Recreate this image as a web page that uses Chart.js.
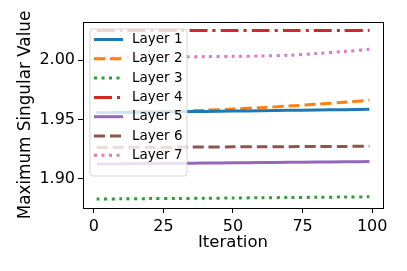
<!DOCTYPE html>
<html><head><meta charset="utf-8">
<script src="https://cdn.jsdelivr.net/npm/chart.js@4.4.0/dist/chart.umd.min.js"></script>
<style>html,body{margin:0;padding:0;background:#fff;}canvas{display:block;}</style>
</head><body>
<canvas id="c" width="407" height="271"></canvas>
<script>
const iterations = [1, 10, 20, 30, 40, 50, 60, 70, 80, 90, 99];
const layer1 = [1.9556, 1.9559, 1.9562, 1.9565, 1.9568, 1.9571, 1.9574, 1.9577, 1.9580, 1.9583, 1.9586];
const layer2 = [1.9558, 1.9561, 1.9565, 1.9570, 1.9578, 1.9588, 1.9600, 1.9613, 1.9628, 1.9645, 1.9663];
const layer3 = [1.8832, 1.8833, 1.8835, 1.8836, 1.8838, 1.8840, 1.8842, 1.8844, 1.8846, 1.8848, 1.8850];
const layer4 = [2.0249, 2.0249, 2.0249, 2.0249, 2.0249, 2.0249, 2.0249, 2.0249, 2.0249, 2.0249, 2.0249];
const layer5 = [1.9126, 1.9128, 1.9130, 1.9132, 1.9134, 1.9136, 1.9138, 1.9140, 1.9142, 1.9144, 1.9146];
const layer6 = [1.9265, 1.9266, 1.9267, 1.9268, 1.9269, 1.9270, 1.9271, 1.9272, 1.9273, 1.9274, 1.9275];
const layer7 = [2.0022, 2.0024, 2.0026, 2.0027, 2.0029, 2.0031, 2.0034, 2.0040, 2.0055, 2.0072, 2.0090];
const seriesLabels = ['Layer 1','Layer 2','Layer 3','Layer 4','Layer 5','Layer 6','Layer 7'];
const yTicks = [1.90, 1.95, 2.00];
const xTicks = [0, 25, 50, 75, 100];

const colors = ['#1f77b4','#ff7f0e','#2ca02c','#d62728','#9467bd','#8c564b','#e377c2'];
const dashes = [[], [11,5], [3,4.5], [18,5,3,5], [], [11,5], [3,4.5]];
const seriesData = [layer1, layer2, layer3, layer4, layer5, layer6, layer7];

const datasets = seriesData.map((vals, i) => ({
  label: seriesLabels[i],
  data: vals.map((v, j) => ({x: iterations[j], y: v})),
  borderColor: colors[i],
  backgroundColor: colors[i],
  borderWidth: 3,
  borderDash: dashes[i],
  borderCapStyle: 'butt',
  pointRadius: 0,
  tension: 0.3,
  fill: false
}));

const FONT = 'DejaVu Sans';

const framePlugin = {
  id: 'frame',
  afterDraw(chart) {
    const {ctx, chartArea: a} = chart;
    ctx.save();
    // legend
    const lx = 90, ly = 29, lw = 97, lh = 147;
    ctx.beginPath();
    const r = 3;
    ctx.moveTo(lx + r, ly);
    ctx.arcTo(lx + lw, ly, lx + lw, ly + lh, r);
    ctx.arcTo(lx + lw, ly + lh, lx, ly + lh, r);
    ctx.arcTo(lx, ly + lh, lx, ly, r);
    ctx.arcTo(lx, ly, lx + lw, ly, r);
    ctx.closePath();
    ctx.fillStyle = 'rgba(255,255,255,0.8)';
    ctx.fill();
    ctx.strokeStyle = 'rgba(204,204,204,0.8)';
    ctx.lineWidth = 1;
    ctx.stroke();
    chart.data.datasets.forEach((ds, i) => {
      const y = 39.5 + i * 19.3;
      ctx.beginPath();
      ctx.setLineDash(ds.borderDash);
      ctx.lineCap = 'butt';
      ctx.strokeStyle = ds.borderColor;
      ctx.lineWidth = 3;
      ctx.moveTo(94, y);
      ctx.lineTo(123, y);
      ctx.stroke();
      ctx.setLineDash([]);
      ctx.fillStyle = '#000';
      ctx.font = '13.5px "' + FONT + '"';
      ctx.textBaseline = 'middle';
      ctx.textAlign = 'left';
      ctx.fillText(ds.label, 132, y);
    });
    // frame
    ctx.strokeStyle = '#000';
    ctx.lineWidth = 1;
    ctx.strokeRect(Math.round(a.left) + 0.5, Math.round(a.top) + 0.5, Math.round(a.right - a.left), Math.round(a.bottom - a.top));
    ctx.restore();
  }
};

new Chart(document.getElementById('c'), {
  type: 'line',
  data: { datasets },
  options: {
    responsive: false,
    animation: false,
    layout: { padding: { left: 0, top: 22, right: 24, bottom: 18 } },
    plugins: { legend: { display: false }, tooltip: { enabled: false } },
    scales: {
      x: {
        type: 'linear',
        min: -3.9, max: 103.9,
        afterBuildTicks: s => { s.ticks = xTicks.map(v => ({value: v})); },
        afterFit: s => { s.height = 45; },
        grid: { drawOnChartArea: false, drawTicks: true, tickLength: 5, color: '#000' },
        border: { display: false },
        ticks: { color: '#000', font: { family: FONT, size: 16 }, padding: 4, maxRotation: 0, autoSkip: false },
        title: { display: true, text: 'Iteration', color: '#000', font: { family: FONT, size: 16.5 }, padding: { top: 0, bottom: 0 } }
      },
      y: {
        type: 'linear',
        min: 1.8756, max: 2.032,
        afterBuildTicks: s => { s.ticks = yTicks.map(v => ({value: v})); },
        afterFit: s => { s.width = 83; },
        grid: { drawOnChartArea: false, drawTicks: true, tickLength: 5, color: '#000' },
        border: { display: false },
        ticks: { color: '#000', font: { family: FONT, size: 16 }, padding: 3, callback: v => v.toFixed(2), autoSkip: false },
        title: { display: true, text: 'Maximum Singular Value', color: '#000', font: { family: FONT, size: 16.8 }, padding: { top: 16, bottom: 0 } }
      }
    }
  },
  plugins: [framePlugin]
});
</script>
</body></html>
